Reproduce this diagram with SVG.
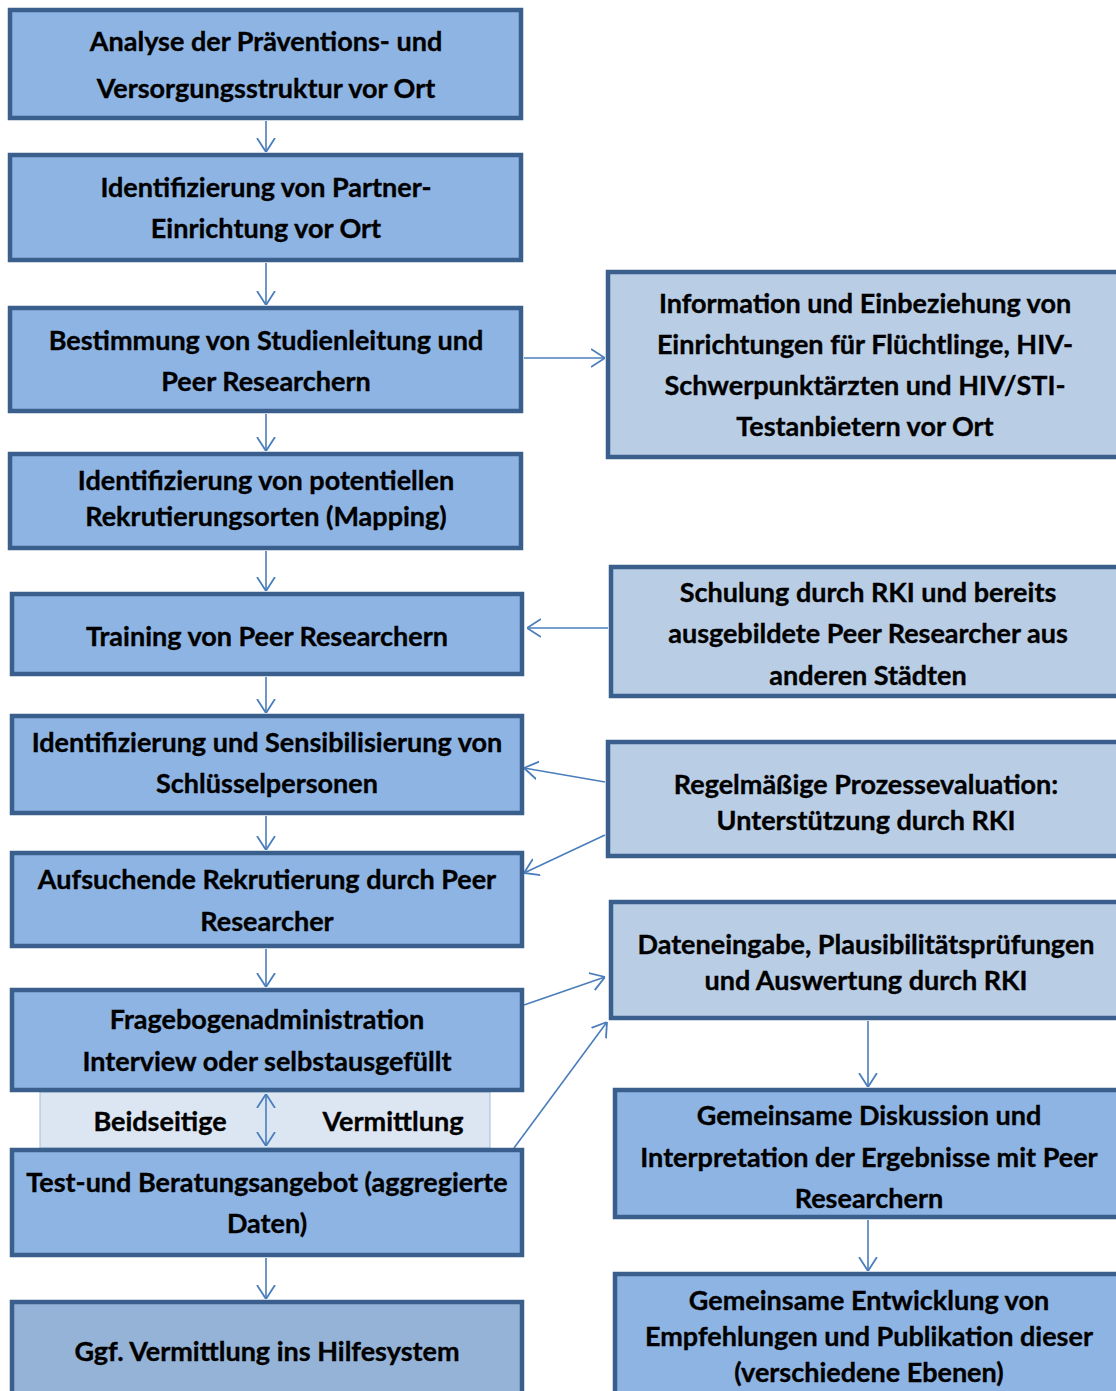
<svg xmlns="http://www.w3.org/2000/svg" width="1116" height="1391" viewBox="0 0 1116 1391">
<style>
.n{fill:#8EB4E3;stroke:#3B5F8C;stroke-width:4.5}
.r{fill:#B9CDE5;stroke:#3B5F8C;stroke-width:4.5}
.g{fill:#95B3D7;stroke:#3B5F8C;stroke-width:4.5}
text{font-family:Lato,"Open Sans","Liberation Sans",sans-serif;font-weight:bold;font-size:27px;fill:#000;stroke:#000;stroke-width:0.35;text-anchor:middle;dominant-baseline:central}
.c{fill:none;stroke:#4A7EBB;stroke-width:1.6}
</style>
<defs>
<marker id="a" viewBox="0 0 14 20" refX="14" refY="10" markerWidth="14" markerHeight="20" markerUnits="userSpaceOnUse" orient="auto-start-reverse">
<path d="M0,1 L14,10 L0,19" fill="none" stroke="#4A7EBB" stroke-width="1.8"/>
</marker>
</defs>
<rect x="0" y="0" width="1116" height="1391" fill="#fff"/>
<g id="band">
<rect x="40" y="1092" width="450" height="56" fill="#DCE6F2" stroke="#A7BCD6" stroke-width="1"/>
<text x="160" y="1120">Beidseitige</text>
<text x="393" y="1120">Vermittlung</text>
</g>
<g id="connectors">
<line class="c" x1="266" y1="121" x2="266" y2="152" marker-end="url(#a)"/>
<line class="c" x1="266" y1="263" x2="266" y2="305" marker-end="url(#a)"/>
<line class="c" x1="266" y1="414" x2="266" y2="451" marker-end="url(#a)"/>
<line class="c" x1="266" y1="551" x2="266" y2="591" marker-end="url(#a)"/>
<line class="c" x1="266" y1="677" x2="266" y2="713" marker-end="url(#a)"/>
<line class="c" x1="266" y1="816" x2="266" y2="850" marker-end="url(#a)"/>
<line class="c" x1="266" y1="949" x2="266" y2="987" marker-end="url(#a)"/>
<line class="c" x1="266" y1="1094" x2="266" y2="1146" marker-start="url(#a)" marker-end="url(#a)"/>
<line class="c" x1="266" y1="1258" x2="266" y2="1299" marker-end="url(#a)"/>
<line class="c" x1="524" y1="358" x2="605" y2="358" marker-end="url(#a)"/>
<line class="c" x1="608" y1="628" x2="527" y2="628" marker-end="url(#a)"/>
<line class="c" x1="605" y1="782" x2="524" y2="768" marker-end="url(#a)"/>
<line class="c" x1="605" y1="835" x2="524" y2="873" marker-end="url(#a)"/>
<line class="c" x1="524" y1="1005" x2="605" y2="977" marker-end="url(#a)"/>
<line class="c" x1="514" y1="1148" x2="607" y2="1022" marker-end="url(#a)"/>
<line class="c" x1="868" y1="1021" x2="868" y2="1087" marker-end="url(#a)"/>
<line class="c" x1="868" y1="1220" x2="868" y2="1271" marker-end="url(#a)"/>
</g>
<g id="n1"><rect class="n" x="10" y="10" width="511" height="108"/><text x="266" y="40">Analyse der Präventions- und</text><text x="266" y="87">Versorgungsstruktur vor Ort</text></g>
<g id="n2"><rect class="n" x="10" y="155" width="511" height="105"/><text x="266" y="186">Identifizierung von Partner-</text><text x="266" y="227">Einrichtung vor Ort</text></g>
<g id="n3"><rect class="n" x="10" y="308" width="511" height="103"/><text x="266" y="339">Bestimmung von Studienleitung und</text><text x="266" y="380">Peer Researchern</text></g>
<g id="n4"><rect class="n" x="10" y="454" width="511" height="94"/><text x="266" y="479">Identifizierung von potentiellen</text><text x="266" y="515">Rekrutierungsorten (Mapping)</text></g>
<g id="n5"><rect class="n" x="12" y="594" width="510" height="80"/><text x="267" y="635">Training von Peer Researchern</text></g>
<g id="n6"><rect class="n" x="12" y="716" width="510" height="97"/><text x="267" y="741">Identifizierung und Sensibilisierung von</text><text x="267" y="782">Schlüsselpersonen</text></g>
<g id="n7"><rect class="n" x="12" y="853" width="510" height="93"/><text x="267" y="878">Aufsuchende Rekrutierung durch Peer</text><text x="267" y="920">Researcher</text></g>
<g id="n8"><rect class="n" x="12" y="990" width="510" height="100"/><text x="267" y="1018">Fragebogenadministration</text><text x="267" y="1060">Interview oder selbstausgefüllt</text></g>
<g id="n9"><rect class="n" x="12" y="1150" width="510" height="105"/><text x="267" y="1181">Test-und Beratungsangebot (aggregierte</text><text x="267" y="1222">Daten)</text></g>
<g id="n10"><rect class="g" x="12" y="1302" width="510" height="100"/><text x="267" y="1350">Ggf. Vermittlung ins Hilfesystem</text></g>
<g id="r1"><rect class="r" x="608" y="272" width="520" height="185"/><text x="865" y="302">Information und Einbeziehung von</text><text x="865" y="343">Einrichtungen für Flüchtlinge, HIV-</text><text x="865" y="384">Schwerpunktärzten und HIV/STI-</text><text x="865" y="425">Testanbietern vor Ort</text></g>
<g id="r2"><rect class="r" x="611" y="567" width="517" height="129"/><text x="868" y="591">Schulung durch RKI und bereits</text><text x="868" y="632">ausgebildete Peer Researcher aus</text><text x="868" y="674">anderen Städten</text></g>
<g id="r3"><rect class="r" x="608" y="742" width="520" height="114"/><text x="866" y="783">Regelmäßige Prozessevaluation:</text><text x="866" y="819">Unterstützung durch RKI</text></g>
<g id="r4"><rect class="r" x="611" y="902" width="517" height="116"/><text x="866" y="943">Dateneingabe, Plausibilitätsprüfungen</text><text x="866" y="979">und Auswertung durch RKI</text></g>
<g id="r5"><rect class="n" x="615" y="1090" width="513" height="127"/><text x="869" y="1114">Gemeinsame Diskussion und</text><text x="869" y="1156">Interpretation der Ergebnisse mit Peer</text><text x="869" y="1197">Researchern</text></g>
<g id="r6"><rect class="n" x="615" y="1274" width="513" height="130"/><text x="869" y="1299">Gemeinsame Entwicklung von</text><text x="869" y="1335">Empfehlungen und Publikation dieser</text><text x="869" y="1371">(verschiedene Ebenen)</text></g>
</svg>
